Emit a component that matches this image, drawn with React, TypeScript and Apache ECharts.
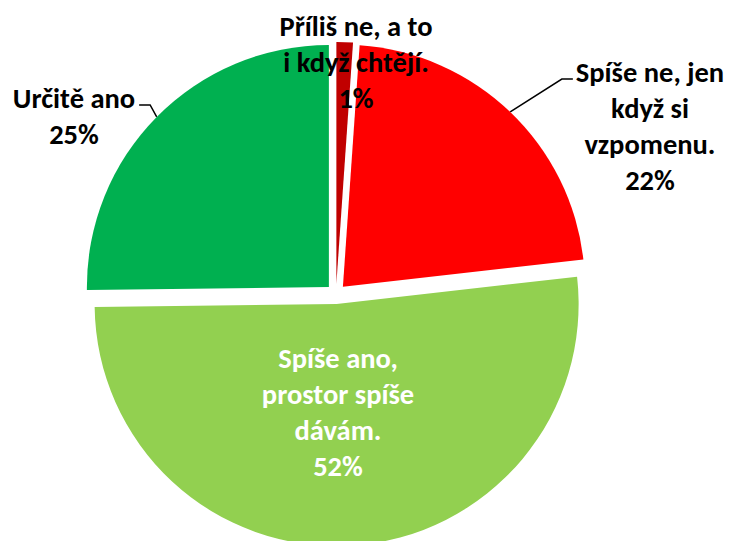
import React, { useEffect, useRef } from "react";
import * as echarts from "echarts";

// ---- data ----
const categories = [
  "Příliš ne, a to\ni když chtějí.",
  "Spíše ne, jen\nkdyž si\nvzpomenu.",
  "Spíše ano,\nprostor spíše\ndávám.",
  "Určitě ano",
];
const values = [1.1, 22.1, 51.6, 25.2];
const colors = ["#C00000", "#FF0000", "#92D050", "#00B050"];
const labelColors = ["#000000", "#000000", "#ffffff", "#000000"];

// ---- layout ----
const labelCentres = [
  [356, 62],
  [650, 126],
  [338, 412],
  [74, 116],
];
const CX = 336;
const CY = 294;
const R = 242;
const EXPLODE = 10;
const FONT = "Carlito, Lato, 'Open Sans', sans-serif";
const FONT_SIZE = 28.5;
const LINE_H = 36;

export default function App() {
  const ref = useRef<HTMLDivElement>(null);
  useEffect(() => {
    if (!ref.current) return;
    const chart = echarts.init(ref.current, undefined, { renderer: "svg" });
    const total = values.reduce((a, b) => a + b, 0);
    let cum = 0;
    const series = values.map((v, i) => {
      const mid = ((cum + v / 2) / total) * 2 * Math.PI;
      cum += v;
      const center = [CX + EXPLODE * Math.sin(mid), CY - EXPLODE * Math.cos(mid)];
      const withLine = i === 1 || i === 3;
      return {
        type: "pie",
        radius: R,
        center,
        startAngle: 90,
        clockwise: true,
        avoidLabelOverlap: false,
        silent: true,
        z: i === 0 ? 4 : 2,
        emphasis: { disabled: true },
        data: values.map((val, j) => ({
          value: val,
          name: categories[j],
          itemStyle: {
            color: j === i ? colors[j] : "rgba(0,0,0,0)",
            borderWidth: 0,
          },
          label: {
            show: j === i,
            position: withLine ? "outside" : "inside",
            color: labelColors[j],
            fontFamily: FONT,
            fontSize: FONT_SIZE,
            fontWeight: "bold",
            lineHeight: LINE_H,
            align: "center",
            formatter: () =>
              `${categories[j]}\n${Math.round((values[j] / total) * 100)}%`,
          },
          labelLine: {
            show: j === i && withLine,
            length: 8,
            length2: 8,
            smooth: false,
            lineStyle: { color: "#000000", width: 1.5 },
          },
        })),
        labelLayout: (p: any) => {
          const j = p.dataIndex;
          const [x, y] = labelCentres[j];
          const out: any = { x, y, align: "center", verticalAlign: "middle" };
          if (p.labelLinePoints && (j === 1 || j === 3)) {
            const start = p.labelLinePoints[0];
            const w = p.labelRect.width;
            const lineY = y - p.labelRect.height / 2 + LINE_H / 2 + 7;
            if (j === 1) {
              const ex = x - w / 2 - 3;
              out.labelLinePoints = [start, [ex - 11, lineY], [ex, lineY]];
            } else {
              const ex = x + w / 2 + 4;
              out.labelLinePoints = [start, [ex + 11, lineY], [ex, lineY]];
            }
          }
          return out;
        },
      };
    });
    chart.setOption({
      animation: false,
      backgroundColor: "#ffffff",
      series,
    } as any);
    return () => chart.dispose();
  }, []);
  return (
    <div
      ref={ref}
      style={{ position: "fixed", left: 0, top: 0, width: 729, height: 541 }}
    />
  );
}
